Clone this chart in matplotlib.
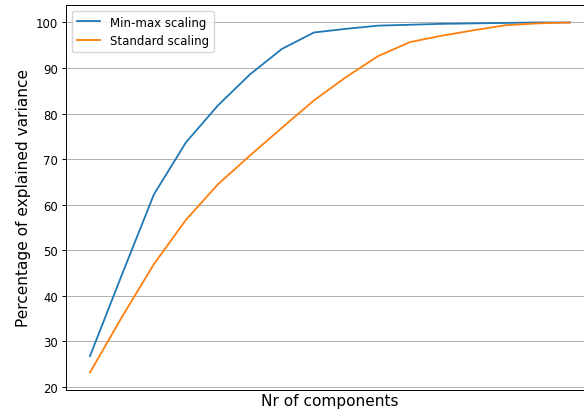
import numpy as np
import matplotlib
matplotlib.use("Agg")
import matplotlib.pyplot as plt

# cumulative explained variance (%) per number of PCA components
n_components = np.arange(1, 17)
minmax_var = [26.8, 44.7, 62.3, 73.7, 81.8, 88.6, 94.2, 97.8,
              98.6, 99.3, 99.5, 99.7, 99.8, 99.9, 100.0, 100.0]
standard_var = [23.2, 35.4, 47.0, 56.7, 64.5, 70.8, 76.9, 82.9,
                88.0, 92.6, 95.7, 97.1, 98.3, 99.4, 99.8, 100.0]

fig = plt.figure(figsize=(5.84, 4.14), dpi=100)
ax = fig.add_axes([0.113, 0.0556, 0.904, 0.93])

ax.plot(n_components, minmax_var, color="#1f77b4", lw=1.3, label="Min-max scaling")
ax.plot(n_components, standard_var, color="#ff7f0e", lw=1.3, label="Standard scaling")

ax.set_xticks([])
ax.yaxis.grid(True, color="#b0b0b0", lw=0.7)
ax.tick_params(axis="y", labelsize=8.4, length=2.9, width=0.7, pad=2.9)
for s in ax.spines.values():
    s.set_linewidth(0.7)

ax.set_xlabel("Nr of components", fontsize=11.1, labelpad=2.5)
ax.set_ylabel("Percentage of explained variance", fontsize=11.1, labelpad=3.5)
ax.legend(loc="upper left", fontsize=8.5)

fig.savefig("out.png", dpi=100)
